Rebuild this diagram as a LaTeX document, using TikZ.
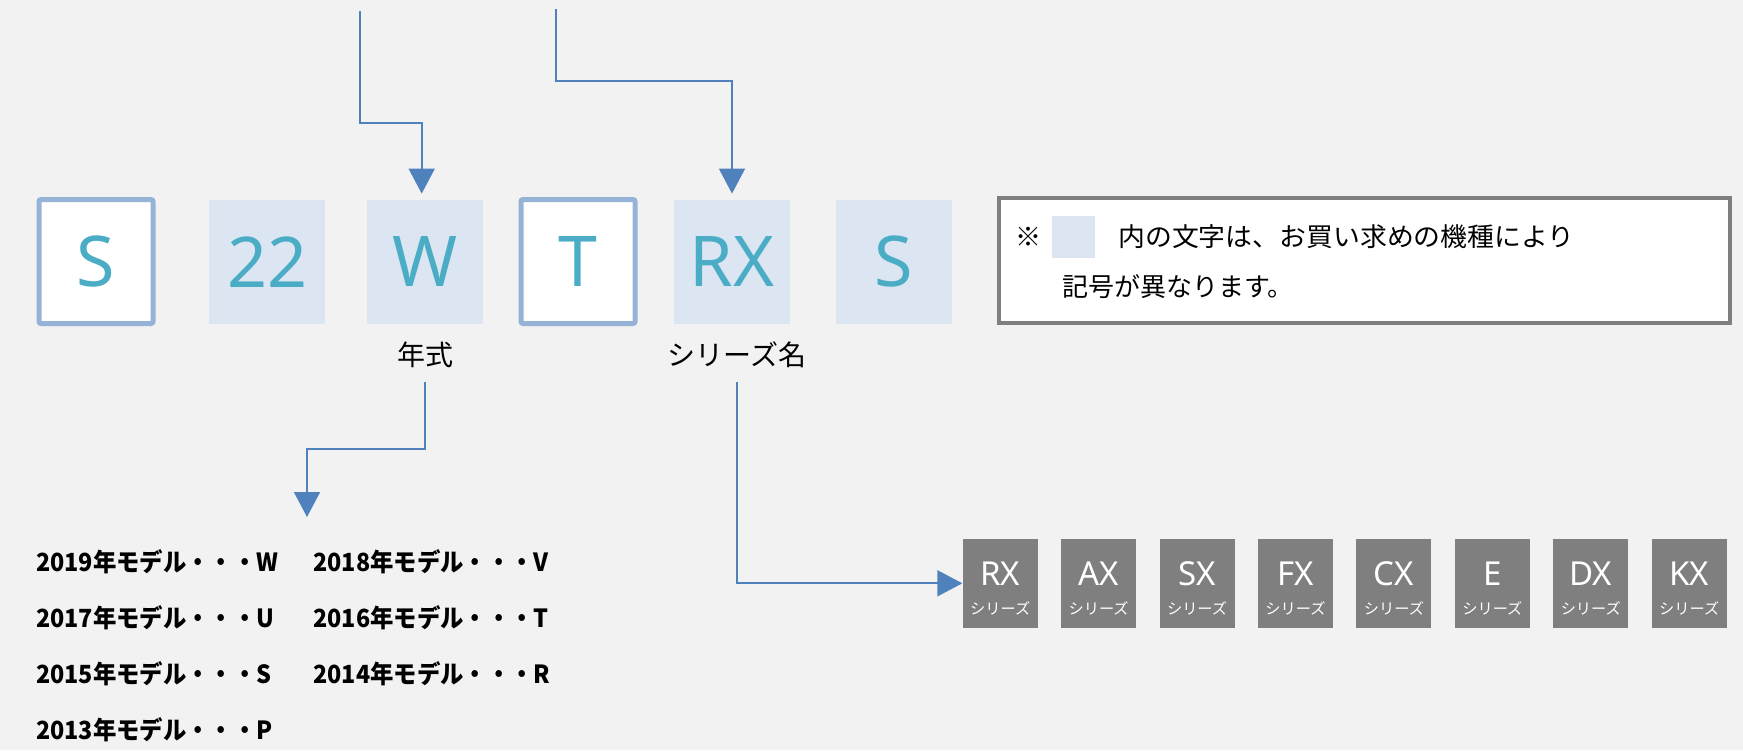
\documentclass[tikz,border=0pt]{standalone}
\usepackage{fontspec}
\setmainfont{Noto Sans}
\newfontfamily\jp{Noto Sans CJK JP}
\usetikzlibrary{arrows.meta}
\definecolor{bgc}{HTML}{F2F2F2}
\definecolor{codeteal}{HTML}{4BACC6}
\definecolor{lightbox}{HTML}{DCE6F2}
\definecolor{boxedge}{HTML}{95B3D7}
\definecolor{arrowblue}{HTML}{4F81BD}
\definecolor{greybox}{HTML}{7F7F7F}
\newcommand{\yrtext}[1]{\scalebox{0.935}[1]{#1}}
\begin{document}
\begin{tikzpicture}[x=0.5pt,y=-0.5pt,
  code/.style={minimum width=58pt,minimum height=62pt,inner sep=0pt,
    font=\fontsize{35}{40}\selectfont,text=codeteal},
  codefill/.style={code,fill=lightbox},
  codeframe/.style={code,fill=white,draw=boxedge,line width=2.5pt,
    rounded corners=1pt,minimum width=57pt,minimum height=62pt},
  arr/.style={draw=arrowblue,line width=0.85pt,
    -{Triangle[length=12.5pt,width=13pt]}},
  lab/.style={font=\jp\fontsize{14}{16}\selectfont,inner sep=0pt,minimum height=27pt},
  gbox/.style={fill=greybox,minimum width=37.5pt,minimum height=44.35pt,inner sep=0pt},
  gbig/.style={font=\fontsize{16.5}{18}\selectfont,text=white,inner sep=0pt},
  gsmall/.style={font=\jp\fontsize{7.6}{8}\selectfont,text=white,inner sep=0pt},
  yr/.style={font=\jp\bfseries\fontsize{12.5}{14}\selectfont,anchor=west,inner sep=0pt},
  notetxt/.style={font=\jp\fontsize{13}{15}\selectfont,inner sep=0pt}
]
\fill[bgc] (0,0) rectangle (1743,750);
\useasboundingbox (0,0) rectangle (1743,750);

% code boxes
\node[codeframe] (s1)  at (96,261.5)   {S};
\node[codefill]  (n22) at (267.2,262)  {22};
\node[codefill]  (w)   at (424.7,262)  {W};
\node[codeframe] (t)   at (578,261.5)  {T};
\node[codefill]  (rx)  at (732,262)    {RX};
\node[codefill]  (s2)  at (893.5,262)  {S};

% labels
\node[lab] (nen) at (425,355) {年式};
\node[lab] (ser) at (737,355) {シリーズ名};

% top connectors
\coordinate (t1) at (360,11);
\coordinate (k1) at (360,123);
\coordinate (t2) at (556,9);
\coordinate (k2) at (556,81);
\draw[arr,shorten >=3pt] (t1) -- (k1) -| ([xshift=-1.5pt]w.north);
\draw[arr,shorten >=3pt] (t2) -- (k2) -| (rx.north);

% note box
\node[draw=greybox,line width=2pt,fill=white,minimum width=365.5pt,
  minimum height=62.5pt,inner sep=0pt] (note) at (1364.2,260.5) {};
\node[notetxt] (kome) at (1028,237) {※};
\node[fill=lightbox,minimum width=21.5pt,minimum height=21pt,inner sep=0pt]
  (swatch) at (1073.5,237) {};
\node[notetxt,anchor=west] (l1) at (1118,237) {\scalebox{1.033}[1]{内の文字は、お買い求めの機種により}};
\node[notetxt,anchor=west] (l2) at (1061.7,287) {記号が異なります。};

% series boxes
\foreach \t [count=\i] in {RX,AX,SX,FX,CX,E,DX,KX} {
  \node[gbox] (g\i) at ({1000.2+98.43*(\i-1)},583.3) {};
  \node[gbig] (gb\i) at ([yshift=5pt]g\i.center) {\t};
  \node[gsmall] (gs\i) at ([yshift=-12.5pt]g\i.center) {シリーズ};
}

% bottom connectors
\coordinate (k3) at (307,449);
\coordinate (e3) at (307,517);
\draw[arr] (nen.south) |- (k3) -- (e3);
\draw[arr] (ser.south) |- (g1.west);

% year list
\node[yr] (y19) at (35.7,562) {\yrtext{2019年モデル・・・W}};
\node[yr] (y18) at (313,562)  {\yrtext{2018年モデル・・・V}};
\node[yr] (y17) at (35.7,618) {\yrtext{2017年モデル・・・U}};
\node[yr] (y16) at (313,618)  {\yrtext{2016年モデル・・・T}};
\node[yr] (y15) at (35.7,674) {\yrtext{2015年モデル・・・S}};
\node[yr] (y14) at (313,674)  {\yrtext{2014年モデル・・・R}};
\node[yr] (y13) at (35.7,730) {\yrtext{2013年モデル・・・P}};
\end{tikzpicture}
\end{document}
